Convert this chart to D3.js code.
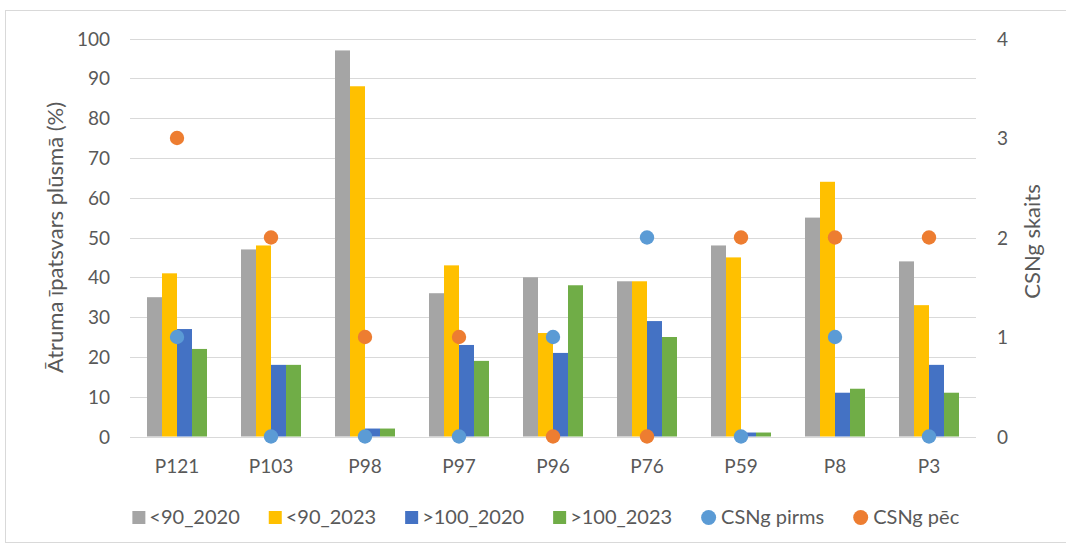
<!DOCTYPE html>
<html>
<head>
<meta charset="utf-8">
<script src="https://cdn.jsdelivr.net/npm/d3@7/dist/d3.min.js"></script>
<style>
  html, body { margin: 0; padding: 0; background: #fff; }
  svg { display: block; }
  text { font-family: Lato, "Open Sans", sans-serif; fill: #595959; }
</style>
</head>
<body>
<svg id="chart" width="1066" height="546"></svg>
<script>
// ---- data ----
const categories = ["P121", "P103", "P98", "P97", "P96", "P76", "P59", "P8", "P3"];
const barSeries = ["<90_2020", "<90_2023", ">100_2020", ">100_2023"];
const lt90_2020 = [35, 47, 97, 36, 40, 39, 48, 55, 44];
const lt90_2023 = [41, 48, 88, 43, 26, 39, 45, 64, 33];
const gt100_2020 = [27, 18, 2, 23, 21, 29, 1, 11, 18];
const gt100_2023 = [22, 18, 2, 19, 38, 25, 1, 12, 11];
const dotSeries = ["CSNg pirms", "CSNg pēc"];
const csngPirms = [1, 0, 0, 0, 1, 2, 0, 1, 0];
const csngPec = [3, 2, 1, 1, 0, 0, 2, 2, 2];
const leftTicks = [0, 10, 20, 30, 40, 50, 60, 70, 80, 90, 100];
const rightTicks = [0, 1, 2, 3, 4];
const leftTitle = "Ātruma īpatsvars plūsmā (%)";
const rightTitle = "CSNg skaits";

const barValues = [lt90_2020, lt90_2023, gt100_2020, gt100_2023];
const dotValues = [csngPirms, csngPec];
const barColors = ["#a5a5a5", "#ffc000", "#4472c4", "#70ad47"];
const dotColors = ["#5b9bd5", "#ed7d31"];

// ---- layout ----
const svg = d3.select("#chart");
const plot = { left: 130, right: 976, top: 38.5, bottom: 436.5 };
const fontSize = 19;

// frame
svg.append("rect")
  .attr("x", 5.5).attr("y", 10.5)
  .attr("width", 1070).attr("height", 532)
  .attr("fill", "none").attr("stroke", "#d9d9d9").attr("stroke-width", 1);

const x = d3.scaleBand().domain(categories)
  .range([plot.left, plot.right])
  .paddingInner(34 / 94).paddingOuter(17 / 94);
const xs = d3.scaleBand().domain(barSeries).range([0, x.bandwidth()]).padding(0);
const yL = d3.scaleLinear().domain([0, 100]).range([plot.bottom, plot.top]);
const yR = d3.scaleLinear().domain([0, 4]).range([plot.bottom, plot.top]);

// gridlines
svg.append("g").selectAll("line").data(leftTicks).join("line")
  .attr("x1", plot.left).attr("x2", plot.right)
  .attr("y1", d => Math.round(yL(d)) + 0.5).attr("y2", d => Math.round(yL(d)) + 0.5)
  .attr("stroke", "#d9d9d9").attr("stroke-width", 1.2);

// left axis
const leftAxis = svg.append("g")
  .attr("transform", `translate(${plot.left - 20},0)`)
  .call(d3.axisLeft(yL).tickValues(leftTicks).tickSize(0).tickPadding(0));
leftAxis.select(".domain").remove();
leftAxis.selectAll("text").style("font-size", fontSize + "px")
  .style("font-family", "Lato").attr("fill", "#595959").attr("dy", "0.35em");

// right axis
const rightAxis = svg.append("g")
  .attr("transform", `translate(${plot.right + 21},0)`)
  .call(d3.axisRight(yR).tickValues(rightTicks).tickSize(0).tickPadding(0).tickFormat(d3.format("d")));
rightAxis.select(".domain").remove();
rightAxis.selectAll("text").style("font-size", fontSize + "px")
  .style("font-family", "Lato").attr("fill", "#595959").attr("dy", "0.35em");

// bottom axis labels
const bottomAxis = svg.append("g")
  .attr("transform", `translate(0,${plot.bottom + 30})`)
  .call(d3.axisBottom(x).tickSize(0).tickPadding(0));
bottomAxis.select(".domain").remove();
bottomAxis.selectAll("text").style("font-size", fontSize + "px")
  .style("font-family", "Lato").attr("fill", "#595959").attr("dy", "0.35em");

// bars
const groups = svg.append("g").selectAll("g").data(categories).join("g")
  .attr("transform", d => `translate(${x(d)},0)`);
groups.selectAll("rect")
  .data((c, i) => barSeries.map((s, j) => ({ s, j, v: barValues[j][i] })))
  .join("rect")
  .attr("x", d => xs(d.s))
  .attr("width", xs.bandwidth())
  .attr("y", d => yL(d.v))
  .attr("height", d => yL(0) - yL(d.v))
  .attr("fill", d => barColors[d.j]);

// dots
dotSeries.forEach((s, j) => {
  svg.append("g").selectAll("circle").data(categories).join("circle")
    .attr("cx", d => x(d) + x.bandwidth() / 2)
    .attr("cy", (d, i) => yR(dotValues[j][i]))
    .attr("r", 7.2)
    .attr("fill", dotColors[j]);
});

// axis titles
const midY = (plot.top + plot.bottom) / 2;
svg.append("text")
  .attr("transform", `translate(55,${midY}) rotate(-90)`)
  .attr("text-anchor", "middle").attr("dy", "0.35em")
  .style("font-size", "22px").text(leftTitle);
svg.append("text")
  .attr("transform", `translate(1032,${midY + 4}) rotate(-90)`)
  .attr("text-anchor", "middle").attr("dy", "0.35em")
  .style("font-size", "22px").text(rightTitle);

// legend
const legendItems = barSeries.map((s, j) => ({ label: s, color: barColors[j], type: "rect" }))
  .concat(dotSeries.map((s, j) => ({ label: s, color: dotColors[j], type: "circle" })));
const legend = svg.append("g");
const lg = legend.selectAll("g").data(legendItems).join("g");
lg.each(function (d) {
  const g = d3.select(this);
  if (d.type === "rect") {
    g.append("rect").attr("x", 0).attr("y", -6).attr("width", 13).attr("height", 13).attr("fill", d.color);
  } else {
    g.append("circle").attr("cx", 7.5).attr("cy", 0.5).attr("r", 7.5).attr("fill", d.color);
  }
  g.append("text").attr("x", d.type === "rect" ? 17 : 20).attr("dy", "0.35em")
    .style("font-size", "20px").text(d.label);
});
const widths = [];
lg.each(function () { widths.push(this.getBBox().width); });
const gap = 29;
const total = d3.sum(widths) + gap * (widths.length - 1);
let cursor = 546 - total / 2;
lg.attr("transform", (d, i) => {
  const t = `translate(${cursor},517)`;
  cursor += widths[i] + gap;
  return t;
});
</script>
</body>
</html>
